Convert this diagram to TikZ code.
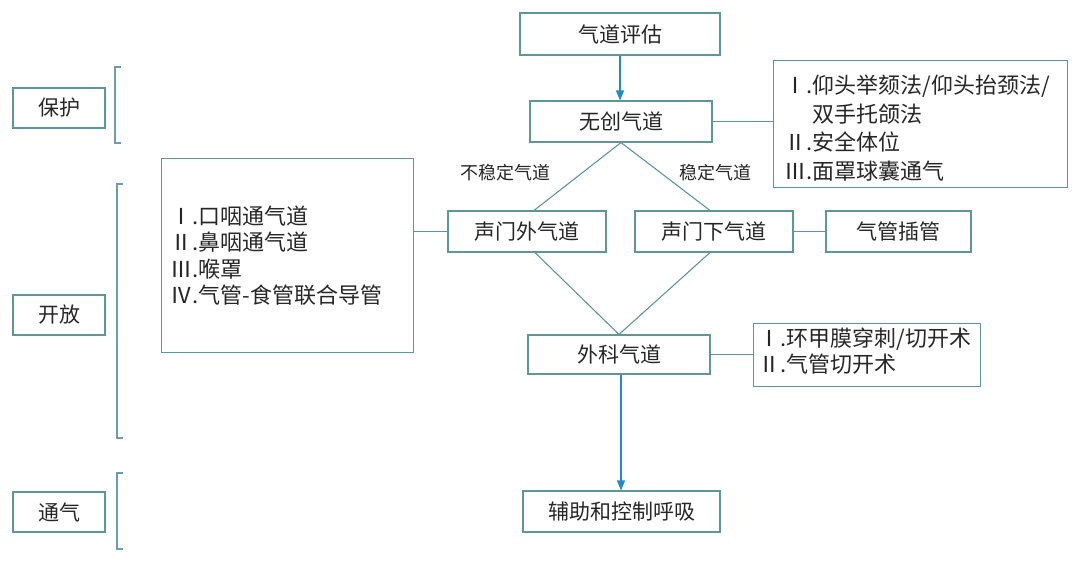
\documentclass[tikz,border=0pt]{standalone}
\usepackage{fontspec}
\newfontfamily\cjk{Noto Sans CJK SC}
\usetikzlibrary{arrows.meta}
\definecolor{boxc}{RGB}{95,150,150}
\definecolor{brc}{RGB}{110,155,180}
\definecolor{arc}{RGB}{30,140,200}
\tikzset{
  bx/.style={draw=boxc, line width=1.1pt, inner sep=0pt, font=\cjk\fontsize{21}{25}\selectfont, text=black!85},
  lst/.style={bx, align=left, anchor=north west},
  lnk/.style={draw=boxc, line width=1.1pt},
  arr/.style={draw=arc, line width=1.1pt, -{Triangle[length=10pt,width=8pt]}},
  brk/.style={draw=brc, line width=1.2pt},
  lbl/.style={font=\cjk\fontsize{18}{22}\selectfont, text=black!85, inner sep=0pt},
}
\begin{document}
\begin{tikzpicture}[x=1pt,y=-1pt]
\useasboundingbox (0,0) rectangle (1080,568);
% main flow
\node[bx, minimum width=200, minimum height=42] (eval) at (620,34) {气道评估};
\node[bx, minimum width=182, minimum height=41] (nia) at (621,121.5) {无创气道};
\node[bx, minimum width=158, minimum height=41] (sup) at (527,231.5) {声门外气道};
\node[bx, minimum width=158, minimum height=41] (sub) at (714,231.5) {声门下气道};
\node[bx, minimum width=145, minimum height=41] (intub) at (898.5,231.5) {气管插管};
\node[bx, minimum width=182, minimum height=39] (surg) at (619,354.5) {外科气道};
\node[bx, minimum width=197, minimum height=41] (vent) at (621.5,511.5) {辅助和控制呼吸};
% list boxes
\node[lst, minimum width=294, minimum height=127, text width=272, inner xsep=11pt, inner ysep=0pt,
      font=\cjk\fontsize{22}{28.5}\selectfont] (nlist) at (773,60)
  {\rule{0pt}{27pt}Ⅰ.仰头举颏法/仰头抬颈法/\\\phantom{Ⅰ.}双手托颌法\\Ⅱ.安全体位\\Ⅲ.面罩球囊通气};
\node[lst, minimum width=252, minimum height=194, text width=234, inner xsep=9pt,
      font=\cjk\fontsize{22}{26.5}\selectfont] (slist) at (161,158)
  {Ⅰ.口咽通气道\\Ⅱ.鼻咽通气道\\Ⅲ.喉罩\\Ⅳ.气管-食管联合导管};
\node[lst, minimum width=227, minimum height=63, text width=217, inner xsep=5pt,
      font=\cjk\fontsize{22}{26}\selectfont] (slist2) at (753,323)
  {Ⅰ.环甲膜穿刺/切开术\\Ⅱ.气管切开术\\[-16pt]\mbox{}};
% left labels
\node[bx, minimum width=92, minimum height=40] (prot) at (59,108) {保护};
\node[bx, minimum width=92, minimum height=40] (open) at (59,315) {开放};
\node[bx, minimum width=92, minimum height=40] (airv) at (59,512) {通气};
% brackets
\draw[brk] (121,67) -- (115,67) -- (115,143) -- (121,143);
\draw[brk] (123,184) -- (117,184) -- (117,438) -- (123,438);
\draw[brk] (123,473) -- (117,473) -- (117,549) -- (123,549);
% connectors
\draw[arr] (eval.south) -- (eval.south |- nia.north);
\draw[lnk] (nia.east) -- (nia.east -| nlist.west);
\draw[lnk] (nia.south) -- ([xshift=7pt]sup.north);
\draw[lnk] (nia.south) -- ([xshift=-4pt]sub.north);
\draw[lnk] (slist.east |- sup.west) -- (sup.west);
\draw[lnk] (sub.east) -- (intub.west);
\draw[lnk] ([xshift=8pt]sup.south) -- (surg.north);
\draw[lnk] ([xshift=-4pt]sub.south) -- (surg.north);
\draw[lnk] (surg.east) -- (surg.east -| slist2.west);
\draw[arr] ([xshift=2pt]surg.south) -- ([xshift=2pt]surg.south |- vent.north);
% branch labels
\node[lbl] (unst) at (505,173) {不稳定气道};
\node[lbl] (stab) at (715,173) {稳定气道};
\end{tikzpicture}
\end{document}
